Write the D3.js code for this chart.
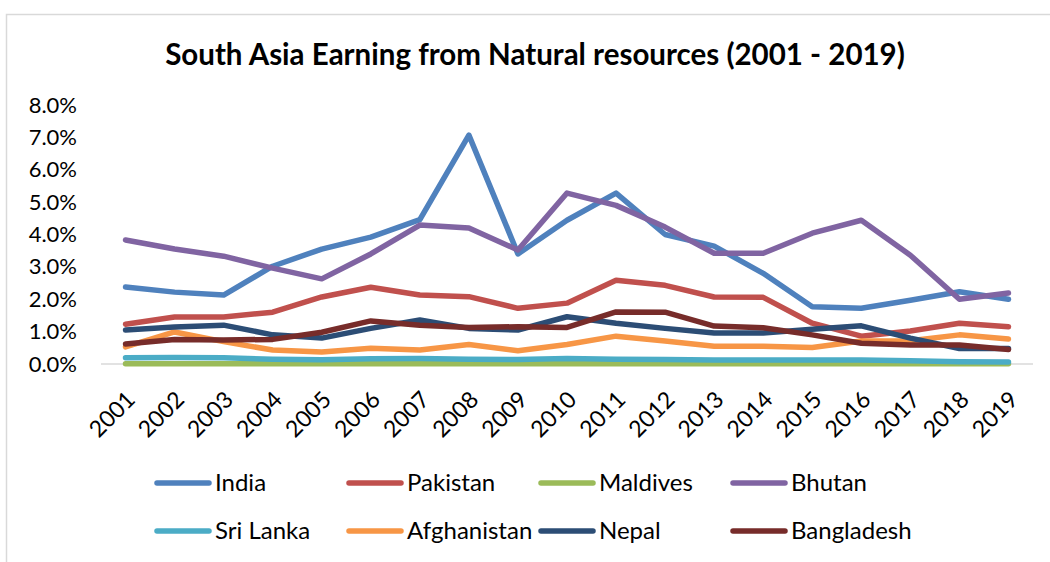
<!DOCTYPE html>
<html>
<head>
<meta charset="utf-8">
<script src="https://cdn.jsdelivr.net/npm/d3@7"></script>
<style>
  html, body { margin: 0; padding: 0; background: #fff; }
  svg { display: block; font-family: "Lato", "Open Sans", sans-serif; }
</style>
</head>
<body>
<svg id="chart" width="1050" height="562"></svg>
<script>
const years = ["2001","2002","2003","2004","2005","2006","2007","2008","2009","2010",
               "2011","2012","2013","2014","2015","2016","2017","2018","2019"];
const yTicks = [0, 1, 2, 3, 4, 5, 6, 7, 8];

const india       = [2.38, 2.22, 2.13, 3.02, 3.55, 3.92, 4.46, 7.07, 3.40, 4.44, 5.28, 4.00, 3.64, 2.80, 1.77, 1.72, 1.97, 2.23, 2.00];
const pakistan    = [1.23, 1.45, 1.45, 1.60, 2.07, 2.37, 2.13, 2.08, 1.72, 1.88, 2.59, 2.43, 2.07, 2.06, 1.26, 0.86, 1.02, 1.26, 1.15];
const maldives    = [0.01, 0.01, 0.01, 0.01, 0.01, 0.01, 0.01, 0.01, 0.01, 0.01, 0.01, 0.01, 0.01, 0.01, 0.01, 0.01, 0.01, 0.01, 0.01];
const bhutan      = [3.83, 3.55, 3.33, 2.96, 2.63, 3.40, 4.29, 4.20, 3.52, 5.28, 4.90, 4.23, 3.42, 3.42, 4.04, 4.44, 3.36, 2.00, 2.19];
const sriLanka    = [0.19, 0.20, 0.19, 0.15, 0.13, 0.16, 0.17, 0.15, 0.14, 0.17, 0.15, 0.14, 0.12, 0.12, 0.12, 0.12, 0.10, 0.07, 0.06];
const afghanistan = [0.53, 0.99, 0.69, 0.43, 0.37, 0.49, 0.43, 0.60, 0.41, 0.60, 0.86, 0.71, 0.55, 0.55, 0.51, 0.71, 0.72, 0.90, 0.77];
const nepal       = [1.05, 1.14, 1.20, 0.90, 0.80, 1.10, 1.36, 1.10, 1.05, 1.46, 1.26, 1.10, 0.96, 0.96, 1.07, 1.18, 0.80, 0.48, 0.48];
const bangladesh  = [0.62, 0.76, 0.74, 0.76, 0.98, 1.33, 1.20, 1.13, 1.15, 1.13, 1.61, 1.60, 1.17, 1.12, 0.90, 0.64, 0.59, 0.59, 0.45];

const seriesNames  = ["India","Pakistan","Maldives","Bhutan","Sri Lanka","Afghanistan","Nepal","Bangladesh"];
const seriesValues = [india, pakistan, maldives, bhutan, sriLanka, afghanistan, nepal, bangladesh];
const seriesColors = ["#4F81BD","#C0504D","#9BBB59","#8064A2","#4BACC6","#F79646","#2C4D75","#772C2A"];

const titleText = "South Asia Earning from Natural resources (2001 - 2019)";

const svg = d3.select("#chart");

// outer chart border
svg.append("rect")
  .attr("x", 6.5).attr("y", 14.5)
  .attr("width", 1060).attr("height", 560)
  .attr("fill", "none").attr("stroke", "#d9d9d9").attr("stroke-width", 1.5);

// title
svg.append("text")
  .attr("x", 535).attr("y", 65)
  .attr("text-anchor", "middle")
  .attr("font-weight", "bold")
  .attr("font-size", 29.5)
  .attr("fill", "#000")
  .text(titleText);

const x = d3.scaleBand().domain(years).range([101, 1033]);
const y = d3.scaleLinear().domain([0, 8]).range([364, 105]);

// y axis labels
const yAxis = d3.axisLeft(y).tickValues(yTicks)
  .tickFormat(d => d3.format(".1f")(d) + "%")
  .tickSize(0).tickPadding(0);
const gy = svg.append("g").attr("transform", "translate(77,0)").call(yAxis);
gy.select(".domain").remove();
gy.selectAll("text").attr("font-size", 22).attr("fill", "#000").attr("font-family", "Lato");

// baseline
svg.append("line")
  .attr("x1", x.range()[0]).attr("x2", x.range()[1])
  .attr("y1", y(0)).attr("y2", y(0))
  .attr("stroke", "#d9d9d9").attr("stroke-width", 1.5);

// x axis labels (rotated)
const xAxis = d3.axisBottom(x).tickSize(0).tickPadding(0);
const gx = svg.append("g").call(xAxis);
gx.select(".domain").remove();
gx.selectAll(".tick").attr("transform", d => `translate(${x(d) + x.bandwidth() / 2 + 11},401)`);
gx.selectAll("text")
  .attr("y", 0).attr("dy", 0)
  .attr("text-anchor", "end")
  .attr("transform", "rotate(-45)")
  .attr("font-size", 23).attr("fill", "#000").attr("font-family", "Lato");

// lines
const line = d3.line()
  .x((d, i) => x(years[i]) + x.bandwidth() / 2)
  .y(d => y(d));

svg.append("g").selectAll("path")
  .data(seriesValues)
  .join("path")
  .attr("d", d => line(d))
  .attr("fill", "none")
  .attr("stroke", (d, i) => seriesColors[i])
  .attr("stroke-width", 5.5)
  .attr("stroke-linecap", "round")
  .attr("stroke-linejoin", "round");

// legend
const legendCols = [157, 349, 541, 733];
const legendRows = [483, 531];
const lg = svg.append("g").selectAll("g")
  .data(seriesNames)
  .join("g")
  .attr("transform", (d, i) => `translate(${legendCols[i % 4]},${legendRows[Math.floor(i / 4)]})`);
lg.append("line")
  .attr("x1", 0).attr("x2", 52).attr("y1", 0).attr("y2", 0)
  .attr("stroke", (d, i) => seriesColors[i])
  .attr("stroke-width", 5.5)
  .attr("stroke-linecap", "round");
lg.append("text")
  .attr("x", 58).attr("y", 0).attr("dy", "0.35em")
  .attr("font-size", 24).attr("fill", "#000")
  .text(d => d);
</script>
</body>
</html>
